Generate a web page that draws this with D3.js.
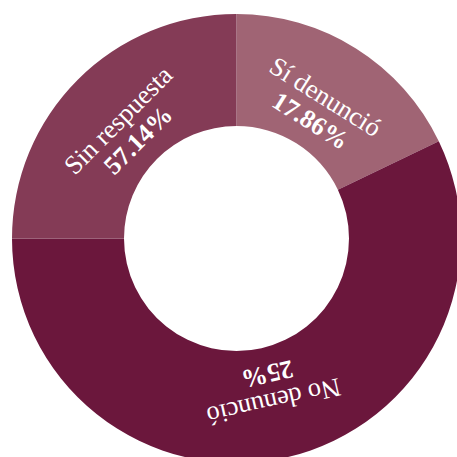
<!DOCTYPE html>
<html>
<head>
<meta charset="utf-8">
<script src="https://cdn.jsdelivr.net/npm/d3@7"></script>
<style>
  html, body { margin: 0; padding: 0; background: #ffffff; }
  svg { display: block; }
</style>
</head>
<body>
<svg id="chart" width="457" height="457"></svg>
<script>
// Data as shown in the reference chart
const categories = ["Sí denunció", "No denunció", "Sin respuesta"];
const sliceValues = [17.86, 57.14, 25];           // slice sizes (as drawn)
const labelPercents = ["17.86%", "25%", "57.14%"]; // percentages printed in the labels
const colors = ["#a06474", "#6b173c", "#843b56"];

const width = 457, height = 457;
const cx = 236.5, cy = 238.5;
const outerR = 224.5, innerR = 112.5;

const svg = d3.select("#chart");
const g = svg.append("g").attr("transform", `translate(${cx},${cy})`);

const data = categories.map((c, i) => ({ name: c, value: sliceValues[i], label: labelPercents[i], color: colors[i] }));

const pie = d3.pie().sort(null).value(d => d.value);
const arc = d3.arc().innerRadius(innerR).outerRadius(outerR);

const arcs = pie(data);

g.selectAll("path.slice")
  .data(arcs)
  .join("path")
  .attr("class", "slice")
  .attr("d", arc)
  .attr("fill", d => d.data.color);

const labels = g.selectAll("g.label")
  .data(arcs)
  .join("g")
  .attr("class", "label")
  .attr("transform", d => {
    const [x, y] = arc.centroid(d);
    const ang = (d.startAngle + d.endAngle) / 2 * 180 / Math.PI;
    return `translate(${x},${y}) rotate(${ang})`;
  });

labels.append("text")
  .attr("text-anchor", "middle")
  .attr("y", 10)
  .attr("fill", "#ffffff")
  .attr("font-family", "'Liberation Serif', 'DejaVu Serif', serif")
  .attr("font-size", 26.5)
  .text(d => d.data.name);

labels.append("text")
  .attr("text-anchor", "middle")
  .attr("y", 38)
  .attr("fill", "#ffffff")
  .attr("font-family", "'Liberation Serif', 'DejaVu Serif', serif")
  .attr("font-weight", "bold")
  .attr("font-size", 26)
  .text(d => d.data.label);
</script>
</body>
</html>
